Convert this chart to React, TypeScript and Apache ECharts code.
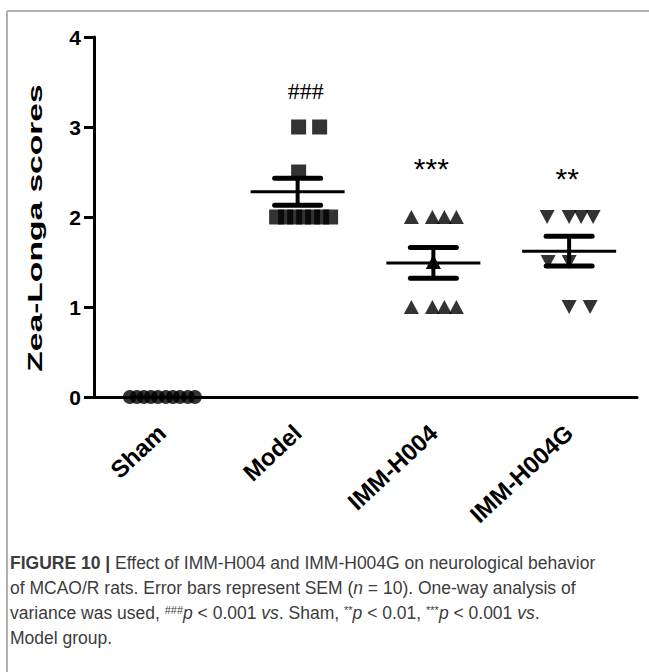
import React, { useEffect, useRef } from "react";
import * as echarts from "echarts";

const categories = ["Sham", "Model", "IMM-H004", "IMM-H004G"];
const shamScores = [0, 0, 0, 0, 0, 0, 0, 0, 0, 0];
const modelScores = [3, 3, 2.5, 2, 2, 2, 2, 2, 2, 2];
const h004Scores = [2, 2, 2, 2, 1.5, 1.5, 1, 1, 1, 1];
const h004gScores = [2, 2, 2, 2, 1.5, 1.5, 1, 1];
const groupMeans = [0, 2.28, 1.49, 1.62];
const groupSems = [0, 0.15, 0.17, 0.165];
const sigMarks = ["", "###", "***", "**"];
const sigMarkY = [0, 3.4, 2.54, 2.43];
const yAxisTitle = "Zea-Longa scores";

// horizontal pixel spread of the points (layout only)
const shamJitter = [-32, -25, -18, -11, -4, 4, 11, 18, 26, 33];
const modelJitter = [1, 22, 1, -21, -12, -3, 6, 15, 24, 33];
const h004Jitter = [-22, -1, 11, 23, 0, 0, -22, -1, 11, 23];
const h004gJitter = [-22, 0, 12, 24, -21, 0, 0, 21];

const FONT = "'Liberation Sans', Arial, sans-serif";

function pts(idx: number, scores: number[], jitter: number[]) {
  return scores.map((v, i) => ({ value: [idx, v], symbolOffset: [jitter[i], 0] }));
}

export default function App() {
  const ref = useRef<HTMLDivElement>(null);
  useEffect(() => {
    if (!ref.current) return;
    const chart = echarts.init(ref.current, undefined, { renderer: "svg" });
    const CAP = 17.5;
    const capStyle = { fontFamily: FONT, fontSize: CAP, fill: "#3c3c3c" };
    const rich = {
      b: { fontFamily: FONT, fontSize: CAP, fontWeight: "bold", fill: "#3c3c3c" },
      i: { fontFamily: FONT, fontSize: CAP, fontStyle: "italic", fill: "#3c3c3c" },
      sup: { fontFamily: FONT, fontSize: 11, fill: "#3c3c3c", verticalAlign: "top", padding: [0, 0, 7, 0] },
    };
    const capLines = [
      "{b|FIGURE 10 |} Effect of IMM-H004 and IMM-H004G on neurological behavior",
      "of MCAO/R rats. Error bars represent SEM ({i|n} = 10). One-way analysis of",
      "variance was used, {sup|###}{i|p} < 0.001 {i|vs}. Sham, {sup|**}{i|p} < 0.01, {sup|***}{i|p} < 0.001 {i|vs}.",
      "Model group.",
    ];
    const capY = [565, 590, 615, 640];
    chart.setOption({
      animation: false,
      backgroundColor: "#fff",
      grid: { left: 94, top: 37, width: 543, height: 360, containLabel: false },
      xAxis: {
        type: "category",
        data: categories,
        boundaryGap: true,
        axisLine: { lineStyle: { color: "#000", width: 3 } },
        axisTick: { alignWithLabel: true, length: 12, lineStyle: { color: "#000", width: 3 } },
        axisLabel: {
          rotate: 43,
          interval: 0,
          color: "#000",
          fontFamily: FONT,
          fontWeight: "bold",
          fontSize: 24,
          margin: 32,
        },
        splitLine: { show: false },
      },
      yAxis: {
        type: "value",
        min: 0,
        max: 4,
        interval: 1,
        axisLine: { show: true, lineStyle: { color: "#000", width: 3 } },
        axisTick: { show: true, length: 10, lineStyle: { color: "#000", width: 3 } },
        axisLabel: { color: "#000", fontFamily: FONT, fontWeight: "bold", fontSize: 21, margin: 13 },
        splitLine: { show: false },
      },
      graphic: [
        { type: "line", shape: { x1: 7, y1: 11, x2: 649, y2: 11 }, style: { stroke: "#b0b0b0", lineWidth: 2 } },
        { type: "line", shape: { x1: 7, y1: 11, x2: 7, y2: 672 }, style: { stroke: "#b0b0b0", lineWidth: 2 } },
        {
          type: "text",
          x: 35,
          y: 228,
          rotation: Math.PI / 2,
          scaleX: 1.6,
          style: {
            text: yAxisTitle,
            fontFamily: FONT,
            fontWeight: "bold",
            fontSize: 21,
            fill: "#000",
            align: "center",
            verticalAlign: "middle",
          },
        },
        ...capLines.map((t, i) => ({
          type: "text",
          left: 10,
          top: capY[i] - 11,
          style: { ...capStyle, text: t, rich },
        })),
      ],
      series: [
        {
          type: "scatter",
          data: pts(0, shamScores, shamJitter),
          symbol: "circle",
          symbolSize: 14,
          itemStyle: { color: "#000" },
          z: 5,
        },
        {
          type: "scatter",
          data: pts(1, modelScores, modelJitter),
          symbol: "rect",
          symbolSize: 15,
          itemStyle: { color: "#000" },
          z: 5,
        },
        {
          type: "scatter",
          data: pts(2, h004Scores, h004Jitter),
          symbol: "triangle",
          symbolSize: [15, 14],
          itemStyle: { color: "#000" },
          z: 5,
        },
        {
          type: "scatter",
          data: pts(3, h004gScores, h004gJitter),
          symbol: "triangle",
          symbolRotate: 180,
          symbolSize: [15, 14],
          itemStyle: { color: "#000" },
          z: 5,
        },
        {
          type: "custom",
          data: groupMeans.map((m, i) => [i, m, groupSems[i]]),
          encode: { x: 0, y: 1 },
          z: 6,
          renderItem: (params: any, api: any) => {
            const i = api.value(0);
            const m = api.value(1);
            const s = api.value(2);
            if (!s) return { type: "group", children: [] };
            const c = api.coord([i, m]);
            const t = api.coord([i, m + s]);
            const b = api.coord([i, m - s]);
            const st = { stroke: "#000", lineWidth: 3 };
            const wh = { stroke: "#000", lineWidth: 5, lineCap: "round" };
            return {
              type: "group",
              children: [
                { type: "line", shape: { x1: c[0] - 47, y1: c[1], x2: c[0] + 47, y2: c[1] }, style: st },
                { type: "line", shape: { x1: t[0], y1: t[1], x2: b[0], y2: b[1] }, style: { stroke: "#000", lineWidth: 4 } },
                { type: "line", shape: { x1: t[0] - 23, y1: t[1], x2: t[0] + 23, y2: t[1] }, style: wh },
                { type: "line", shape: { x1: b[0] - 23, y1: b[1], x2: b[0] + 23, y2: b[1] }, style: wh },
              ],
            };
          },
        },
        {
          type: "custom",
          data: sigMarks.map((s, i) => [i, sigMarkY[i]]),
          encode: { x: 0, y: 1 },
          z: 7,
          renderItem: (params: any, api: any) => {
            const i = api.value(0);
            const p = api.coord([i, api.value(1)]);
            const txt = sigMarks[params.dataIndex];
            const isHash = txt.indexOf("#") >= 0;
            return {
              type: "text",
              x: p[0] + (isHash ? 8 : -2),
              y: p[1],
              style: {
                text: txt,
                fill: "#000",
                fontFamily: isHash ? "'Liberation Serif', serif" : FONT,
                fontSize: isHash ? 24 : 30,
                align: "center",
                verticalAlign: "middle",
              },
            };
          },
        },
      ],
    });
    return () => chart.dispose();
  }, []);
  return (
    <div style={{ position: "absolute", left: 0, top: 0, width: 649, height: 672, background: "#fff" }}>
      <div ref={ref} style={{ width: 649, height: 672 }} />
    </div>
  );
}
